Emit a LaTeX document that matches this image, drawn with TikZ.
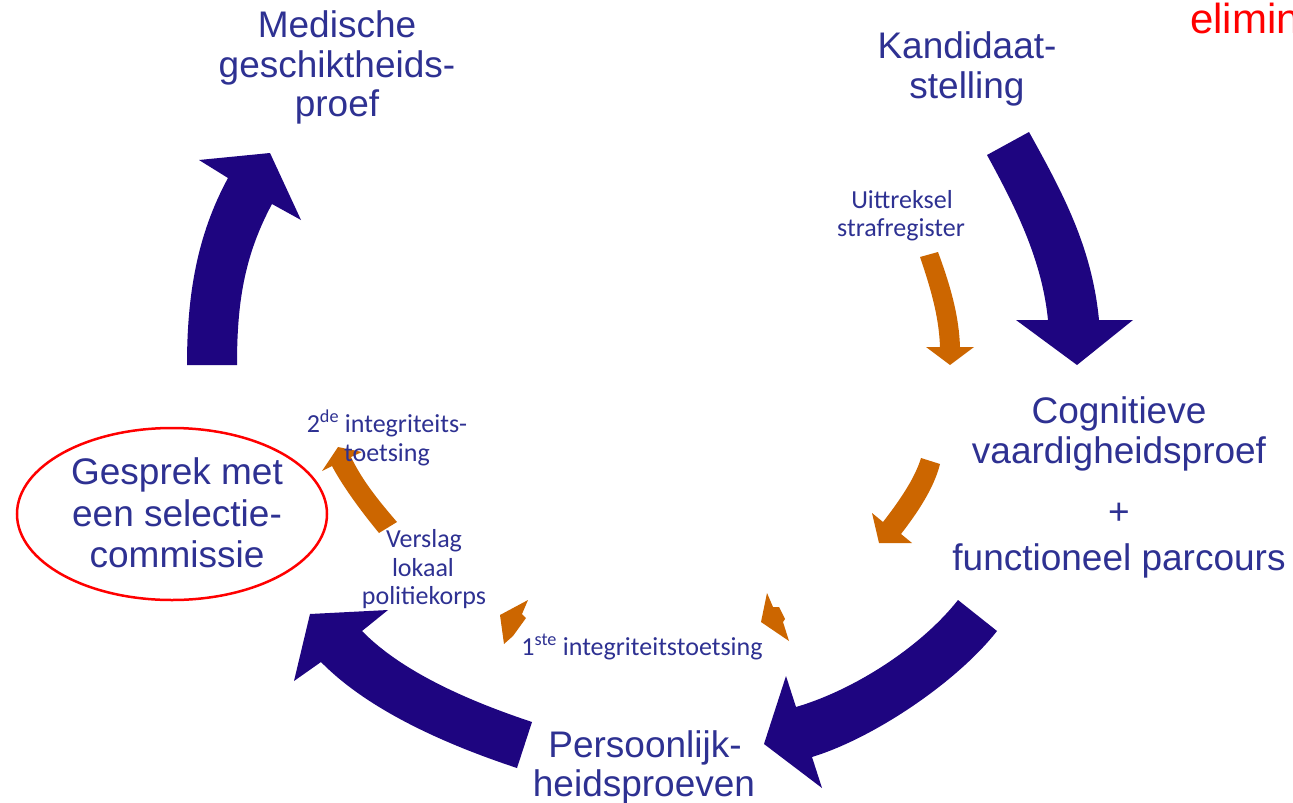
\documentclass[tikz,border=0pt]{standalone}
\usepackage{fontspec}
\usetikzlibrary{shapes.geometric}
\newfontfamily\arialf{Liberation Sans}
\newfontfamily\calf{Carlito}
\definecolor{txtblue}{RGB}{46,49,146}
\definecolor{arrowblue}{RGB}{30,5,128}
\definecolor{orangec}{RGB}{204,102,0}
\tikzset{
  big/.style={font=\arialf\fontsize{37}{40}\selectfont, text=txtblue, inner sep=0pt, anchor=base},
  small/.style={font=\calf\fontsize{26}{29}\selectfont, text=txtblue, inner sep=0pt, anchor=base},
  bigarrow/.style={fill=arrowblue, draw=none},
  smallarrow/.style={fill=orangec, draw=none}
}
\begin{document}
\begin{tikzpicture}[x=1pt,y=-1pt]
\useasboundingbox (0,0) rectangle (1293,803);
\clip (0,0) rectangle (1293,803);
\fill[white] (0,0) rectangle (1293,803);

% big arrows
\path[bigarrow] (987,155) .. controls (1016,208) and (1042,260) .. (1048,320)
  -- (1016,320) -- (1077,365) -- (1133,320) -- (1099,320)
  .. controls (1092,248) and (1064,195) .. (1029,132) -- cycle;
\path[bigarrow] (187,365) .. controls (187,295) and (197,235) .. (228,178)
  -- (199,160) -- (270,153) -- (301,220) -- (272,204)
  .. controls (243.5,257) and (237,305) .. (237,365) -- cycle;
\path[bigarrow] (958,600) .. controls (921,647) and (854,690) .. (796,707)
  -- (786,676) -- (764,744) -- (822,788) -- (812,757)
  .. controls (874,738) and (957,682) .. (997,631) -- cycle;
\path[bigarrow] (532,722) .. controls (475,703) and (404,674) .. (362,631)
  -- (388,610) -- (310,614) -- (294,681) -- (321,662)
  .. controls (370,712) and (450.5,746) .. (517,768) -- cycle;

% orange arrows
\path[smallarrow] (920,257) .. controls (933,295) and (939,320) .. (940,347)
  -- (926,347) -- (950,365) -- (974,347) -- (960,347)
  .. controls (959,318) and (952,290) .. (938,252) -- cycle;
\path[smallarrow] (921,458) .. controls (915,478) and (900,500) .. (883,522)
  -- (872,513) -- (879,543) -- (912,543) -- (901,534)
  .. controls (918,512) and (934,488) .. (940,464) -- cycle;
\path[smallarrow] (379,533) .. controls (360,510) and (342,485) .. (332,466)
  -- (322,471) -- (338,447) -- (362,452) -- (351,457)
  .. controls (362,480) and (378,500) .. (397,522) -- cycle;
\path[smallarrow] (500,615) -- (528,600) -- (522,614) -- (526,618) -- (513,636) -- (504,644) -- cycle;
\path[smallarrow] (767,593) -- (773,607) -- (779,607) -- (785,619) -- (783,622) -- (789,641) -- (761,622) -- cycle;

% ellipse
\node[draw=red, line width=2.5pt, ellipse, minimum width=310pt, minimum height=172pt, inner sep=0pt] (ell) at (172,514) {};

% big labels
\node[big] (med1) at (337,37) {Medische};
\node[big] (med2) at (337,77) {geschiktheids-};
\node[big] (med3) at (337,116) {proef};
\node[big] (kan1) at (967,58) {Kandidaat-};
\node[big] (kan2) at (967,98) {stelling};
\node[big] (cog1) at (1119,423) {Cognitieve};
\node[big] (cog2) at (1119,463) {vaardigheidsproef};
\node[big] (cogp) at (1119,524) {+};
\node[big] (cog3) at (1119,570) {functioneel parcours};
\node[big] (ges1) at (177,484) {Gesprek met};
\node[big] (ges2) at (177,526) {een selectie-};
\node[big] (ges3) at (177,567) {commissie};
\node[big] (per1) at (645,757) {Persoonlijk-};
\node[big] (per2) at (644,796) {heidsproeven};
\node[big, anchor=base west, text=red, font=\arialf\fontsize{42}{44}\selectfont] (elim) at (1190,33) {eliminerend};

% small labels
\node[small] (uit1) at (902,208) {Uittreksel};
\node[small] (uit2) at (901,236) {strafregister};
\node[small] (int1) at (387,432) {2\textsuperscript{de} integriteits-};
\node[small] (int2) at (387,461) {toetsing};
\node[small] (ver1) at (424,547) {Verslag};
\node[small] (ver2) at (423,576) {lokaal};
\node[small] (ver3) at (424,604) {politiekorps};
\node[small] (int3) at (642,655) {1\textsuperscript{ste} integriteitstoetsing};
\end{tikzpicture}
\end{document}
